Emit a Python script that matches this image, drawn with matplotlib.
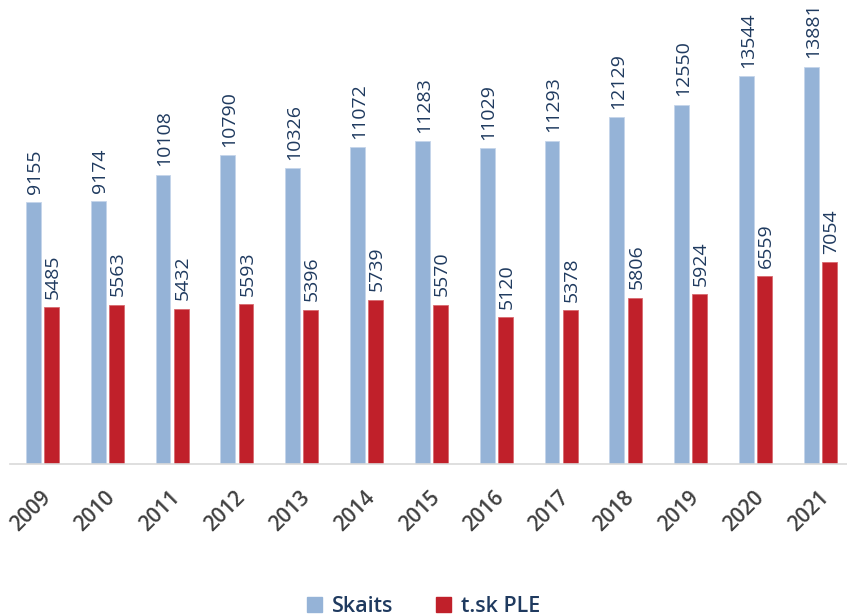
import matplotlib.pyplot as plt
import matplotlib.patches as mpatches
import matplotlib.transforms as mtransforms
import numpy as np

years = ["2009", "2010", "2011", "2012", "2013", "2014", "2015",
         "2016", "2017", "2018", "2019", "2020", "2021"]
skaits = [9155, 9174, 10108, 10790, 10326, 11072, 11283,
          11029, 11293, 12129, 12550, 13544, 13881]
ple = [5485, 5563, 5432, 5593, 5396, 5739, 5570,
       5120, 5378, 5806, 5924, 6559, 7054]

blue = "#95b3d7"
red = "#c0202a"
navy = "#1f3a5f"

plt.rcParams['font.family'] = ['Open Sans', 'DejaVu Sans']

fig = plt.figure(figsize=(8.47, 6.16), dpi=100)
ax = fig.add_axes([10 / 847, 152 / 616, 837 / 847, 464 / 616])

x = np.arange(len(years))
w = 0.23
off = 0.14
b1 = ax.bar(x - off, skaits, w, color=blue, edgecolor="#c5d5ea", linewidth=0.6)
b2 = ax.bar(x + off, ple, w, color=red, edgecolor="#d86a70", linewidth=0.6)

# value labels, vertical, above each bar
for bars, vals in ((b1, skaits), (b2, ple)):
    for r, v in zip(bars, vals):
        ax.annotate(str(v), (r.get_x() + r.get_width() / 2, v),
                    xytext=(1, 6), textcoords="offset points",
                    rotation=90, ha="center", va="bottom",
                    fontsize=14, color=navy)

ax.set_xlim(-0.5, 12.41)
ax.set_ylim(0, 16212)
ax.set_yticks([])
for s in ("top", "right", "left"):
    ax.spines[s].set_visible(False)
ax.spines["bottom"].set_color("#d9d9d9")
ax.spines["bottom"].set_linewidth(1.2)

ax.set_xticks(x)
ax.set_xticklabels(years, rotation=45, ha="right", va="center",
                   rotation_mode="anchor", fontsize=15, fontweight=600,
                   color="#404040")
ax.tick_params(axis="x", length=0, pad=22)
shift = mtransforms.ScaledTranslation(5 / 100, 0, fig.dpi_scale_trans)
for lab in ax.get_xticklabels():
    lab.set_transform(lab.get_transform() + shift)

handles = [mpatches.Patch(color=blue, label="Skaits"),
           mpatches.Patch(color=red, label="t.sk PLE")]
fig.legend(handles=handles, loc="lower center", ncol=2, frameon=False,
           bbox_to_anchor=(0.5, -0.033), labelcolor=navy,
           prop={'size': 15.5, 'weight': 600},
           handlelength=0.7, handleheight=0.7, handletextpad=0.45,
           columnspacing=2.0)

fig.savefig("out.png", dpi=100)
